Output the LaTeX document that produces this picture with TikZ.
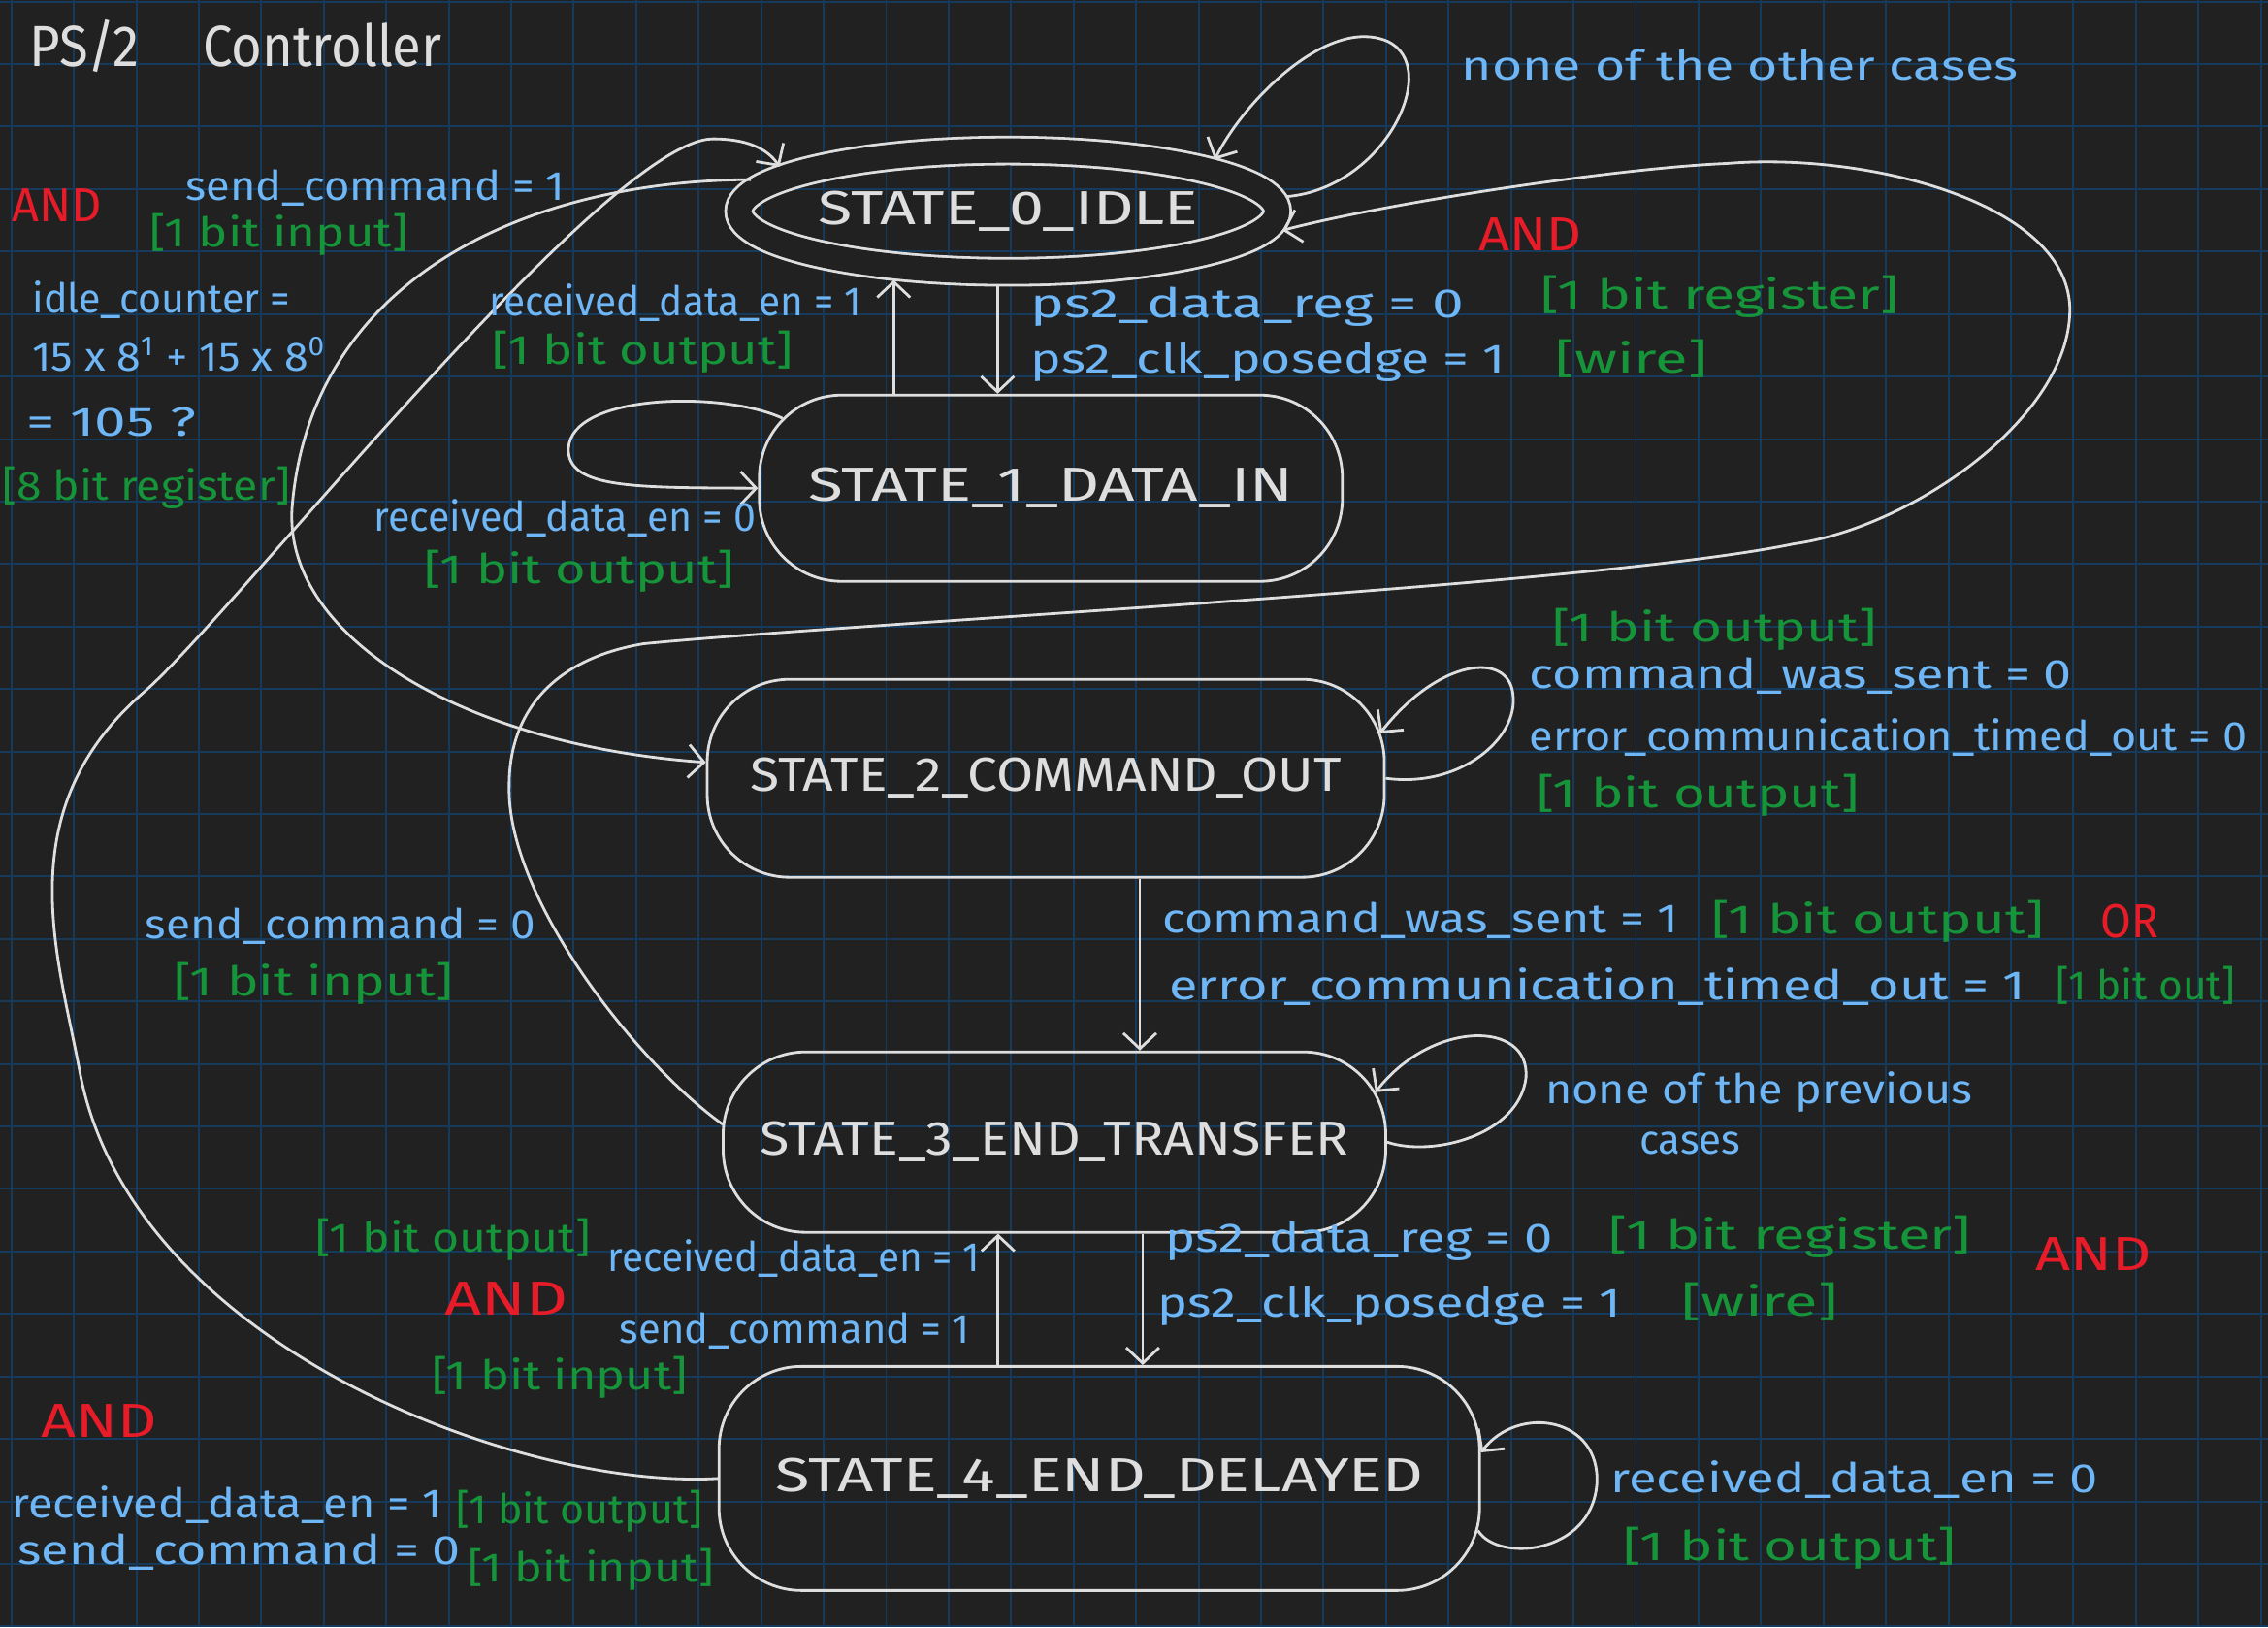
\documentclass[tikz,border=0pt]{standalone}
\usepackage{graphicx}
\usepackage{fontspec}
\setmainfont{Fira Sans}
\usetikzlibrary{arrows.meta,shapes.geometric,calc}

\definecolor{board}{RGB}{33,33,33}
\definecolor{gridblue}{RGB}{22,58,92}
\definecolor{chalk}{RGB}{222,222,222}
\definecolor{condblue}{RGB}{110,182,245}
\definecolor{bitgreen}{RGB}{22,148,58}
\definecolor{logicred}{RGB}{232,28,40}

% one drawing unit = one pixel of the sketch
\newlength{\pxu}\setlength{\pxu}{0.14911mm}
\newcommand{\spanto}[2]{\resizebox{#1\pxu}{\height}{#2}}

\tikzset{
  state/.style={draw=chalk,text=chalk,line width=0.8pt,rectangle,rounded corners=8.5mm,
    inner sep=0pt,font=\fontsize{14}{16}\selectfont},
  trans/.style={draw=chalk,line width=0.8pt,rounded corners=0pt,-{Straight Barb[length=1.6mm,width=3.4mm]}},
  cond/.style={text=condblue,anchor=west,inner sep=0pt,font=\fontsize{12}{14}\selectfont},
  bits/.style={text=bitgreen,anchor=west,inner sep=0pt,font=\fontsize{12}{14}\selectfont},
  logic/.style={text=logicred,anchor=west,inner sep=0pt,font=\fontsize{14}{16}\selectfont},
  gridline/.style={draw=gridblue,line width=0.55pt},
}

\begin{document}
\begin{tikzpicture}[x=0.14911mm,y=-0.14911mm]
% ---------- board ----------
\useasboundingbox (0,0) rectangle (1568,1125);
\fill[board] (0,0) rectangle (1568,1125);
\foreach \k in {0,...,36} \draw[gridline] ({7.85+43.2*\k},0) -- ({7.85+43.2*\k},1125);
\foreach \k in {0,...,26} \draw[gridline] (0,{1.1+43.2*\k}) -- (1568,{1.1+43.2*\k});
\node[anchor=west,text=chalk,inner sep=0pt,font=\fontsize{17}{19}\selectfont] (title) at (20,32)
  {\spanto{285}{PS/2\hspace{1.2em}Controller}};

% ---------- states ----------
\node[state,ellipse,double=board,double distance=2.5mm,outer sep=1.5mm,
  minimum width=52.5mm,minimum height=12.5mm] (s0) at (697,146) {\spanto{263}{STATE\_0\_IDLE}};
\node[state,minimum width=60.1mm,minimum height=19.2mm] (s1) at (726.5,337.5) {\spanto{335}{STATE\_1\_DATA\_IN}};
\node[state,minimum width=69.8mm,minimum height=20.4mm] (s2) at (723,538) {\spanto{409}{STATE\_2\_COMMAND\_OUT}};
\node[state,minimum width=68.3mm,minimum height=18.6mm] (s3) at (729,789.5) {\spanto{407}{STATE\_3\_END\_TRANSFER}};
\node[state,minimum width=78.4mm,minimum height=23.1mm] (s4) at (760,1022) {\spanto{448}{STATE\_4\_END\_DELAYED}};

% ---------- transitions ----------
\draw[trans] (s0.3) .. controls (960,130) and (1000,40) .. (955,27) .. controls (915,15) and (860,70) .. (s0.14);
\draw[trans] (s0.262) -- (s0.262 |- s1.north);
\draw[trans] (s0.211 |- s1.north) -- (s0.211);
\draw[trans] ($(s1.north west)+(17,17)$) .. controls (500,270) and (395,272) .. (393,310)
  .. controls (392,338) and (440,337) .. (s1.west);
\draw[trans] (s0.173) .. controls (360,125) and (215,195) .. (202,350)
  .. controls (195,440) and (320,515) .. ($(s2.west)+(0,-11)$);
\draw[trans] (s2.east) .. controls (1010,545) and (1050,510) .. (1046,480)
  .. controls (1043,450) and (995,455) .. ($(s2.east)+(-4,-31)$);
\coordinate (c23) at ($(s2.south)+(65,0)$);
\draw[trans] (c23) -- (c23 |- s3.north);
\draw[trans] ($(s3.west)+(1,-12)$) .. controls (440,735) and (350,620) .. (352,543) .. controls (352,490) and (385,455) .. (445,445)
  .. controls (600,430) and (1100,405) .. (1240,376) .. controls (1320,365) and (1430,290) .. (1431,215)
  .. controls (1432,140) and (1290,105) .. (1194,113) .. controls (1120,116) and (960,140) .. (s0.356);
\draw[trans] (s3.east) .. controls (990,800) and (1050,785) .. (1055,745)
  .. controls (1058,705) and (990,705) .. ($(s3.east)+(-8,-34.5)$);
\coordinate (c34) at ($(s3.south)+(61,0)$);
\draw[trans] (c34) -- (c34 |- s4.north);
\coordinate (c43) at ($(s3.south)+(-39,0)$);
\draw[trans] (c43 |- s4.north) -- (c43);
\draw[trans] ($(s4.east)+(-2,36)$) .. controls (1035,1080) and (1100,1075) .. (1104,1026)
  .. controls (1107,980) and (1050,970) .. ($(s4.east)+(0,-18)$);
\draw[trans] (s4.west) .. controls (360,1030) and (90,930) .. (55,740) .. controls (40,660) and (5,560) .. (100,478)
  .. controls (160,426) and (420,96) .. (493,96) .. controls (515,96) and (530,102) .. (s0.169);

% ---------- conditions: STATE_0 ----------
\node[logic] (and02) at (8,142) {\spanto{62}{AND}};
\node[cond] (c02a) at (128,130) {\spanto{262}{send\_command = 1}};
\node[bits] (b02a) at (103,162) {\spanto{179}{[1 bit input]}};
\node[cond] (c02b) at (22,207) {\spanto{178}{idle\_counter =}};
\node[cond] (c02c) at (22,245) {\spanto{203}{15 x 8\textsuperscript{1} + 15 x 8\textsuperscript{0}}};
\node[cond] (c02d) at (18,292) {\spanto{117}{= 105 ?}};
\node[bits] (b02b) at (1,337) {\spanto{199}{[8 bit register]}};
\node[cond] (c00) at (1010,45) {\spanto{385}{none of the other cases}};
\node[logic] (and01) at (1022,162) {\spanto{71}{AND}};
\node[cond] (c01a) at (712,212) {\spanto{300}{ps2\_data\_reg = 0}};
\node[bits] (b01a) at (1065,205) {\spanto{247}{[1 bit register]}};
\node[cond] (c01b) at (712,250) {\spanto{328}{ps2\_clk\_posedge = 1}};
\node[bits] (b01b) at (1075,248) {\spanto{105}{[wire]}};

% ---------- conditions: STATE_1 ----------
\node[cond] (c10) at (338,209) {\spanto{257}{received\_data\_en = 1}};
\node[bits] (b10) at (340,243) {\spanto{208}{[1 bit output]}};
\node[cond] (c11) at (258,358) {\spanto{264}{received\_data\_en = 0}};
\node[bits] (b11) at (293,395) {\spanto{214}{[1 bit output]}};

% ---------- conditions: STATE_2 ----------
\node[bits] (b22a) at (1073,435) {\spanto{224}{[1 bit output]}};
\node[cond] (c22a) at (1057,467) {\spanto{375}{command\_was\_sent = 0}};
\node[cond] (c22b) at (1057,510) {\spanto{496}{error\_communication\_timed\_out = 0}};
\node[bits] (b22b) at (1062,550) {\spanto{223}{[1 bit output]}};
\node[cond] (c23a) at (803,636) {\spanto{357}{command\_was\_sent = 1}};
\node[bits] (b23a) at (1183,637) {\spanto{230}{[1 bit output]}};
\node[logic] (or23) at (1452,637) {\spanto{40}{OR}};
\node[cond] (c23b) at (808,682) {\spanto{592}{error\_communication\_timed\_out = 1}};
\node[bits] (b23b) at (1421,681) {\spanto{124}{[1 bit out]}};

% ---------- conditions: STATE_3 ----------
\node[cond] (c30) at (100,640) {\spanto{270}{send\_command = 0}};
\node[bits] (b30) at (120,680) {\spanto{193}{[1 bit input]}};
\node[cond] (c33a) at (1068,755) {\spanto{295}{none of the previous}};
\node[cond] (c33b) at (1133,790) {\spanto{70}{cases}};
\node[cond] (c34a) at (805,858) {\spanto{268}{ps2\_data\_reg = 0}};
\node[bits] (b34a) at (1112,855) {\spanto{250}{[1 bit register]}};
\node[cond] (c34b) at (800,903) {\spanto{320}{ps2\_clk\_posedge = 1}};
\node[bits] (b34b) at (1162,900) {\spanto{108}{[wire]}};
\node[logic] (and34) at (1407,867) {\spanto{80}{AND}};

% ---------- conditions: STATE_4 ----------
\node[bits] (b43a) at (218,857) {\spanto{190}{[1 bit output]}};
\node[cond] (c43a) at (420,870) {\spanto{257}{received\_data\_en = 1}};
\node[logic] (and43) at (307,898) {\spanto{85}{AND}};
\node[cond] (c43b) at (428,920) {\spanto{242}{send\_command = 1}};
\node[bits] (b43b) at (298,952) {\spanto{177}{[1 bit input]}};
\node[logic] (and40) at (28,982) {\spanto{80}{AND}};
\node[cond] (c40a) at (8,1040) {\spanto{297}{received\_data\_en = 1}};
\node[bits] (b40a) at (315,1045) {\spanto{170}{[1 bit output]}};
\node[cond] (c40b) at (12,1073) {\spanto{306}{send\_command = 0}};
\node[bits] (b40b) at (323,1085) {\spanto{170}{[1 bit input]}};
\node[cond] (c44) at (1113,1023) {\spanto{337}{received\_data\_en = 0}};
\node[bits] (b44) at (1122,1070) {\spanto{230}{[1 bit output]}};
\end{tikzpicture}
\end{document}
